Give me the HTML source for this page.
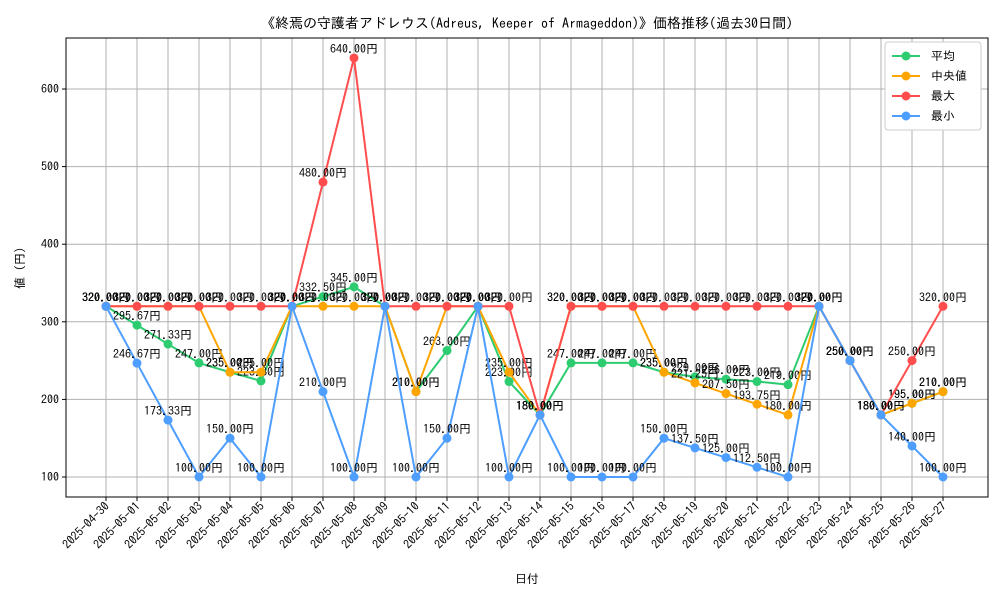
<!DOCTYPE html>
<html><head><meta charset="utf-8"><style>
body{margin:0;background:#fff;}
svg text{font-family:"IPAGothic","Noto Sans CJK JP",monospace;}
</style></head><body>
<svg id="c" width="1000" height="600"></svg>
<script>
const dates=["2025-04-30","2025-05-01","2025-05-02","2025-05-03","2025-05-04","2025-05-05","2025-05-06","2025-05-07","2025-05-08","2025-05-09","2025-05-10","2025-05-11","2025-05-12","2025-05-13","2025-05-14","2025-05-15","2025-05-16","2025-05-17","2025-05-18","2025-05-19","2025-05-20","2025-05-21","2025-05-22","2025-05-23","2025-05-24","2025-05-25","2025-05-26","2025-05-27"];
const avgVals=[320,295.67,271.33,247,235,223.8,320,332.5,345,320,210,263,320,223,180,247,247,247,235,229,226,223,219,320,250,180,195,210];
const medVals=[320,320,320,320,235,235,320,320,320,320,210,320,320,235,180,320,320,320,235,221.25,207.5,193.75,180,320,250,180,195,210];
const maxVals=[320,320,320,320,320,320,320,480,640,320,320,320,320,320,180,320,320,320,320,320,320,320,320,320,250,180,250,320];
const minVals=[320,246.67,173.33,100,150,100,320,210,100,320,100,150,320,100,180,100,100,100,150,137.5,125,112.5,100,320,250,180,140,100];
const yTicks=[100,200,300,400,500,600];
const NS="http://www.w3.org/2000/svg";
const svg=document.getElementById('c');
function mk(t,a,p){const e=document.createElementNS(NS,t);for(const k in a)e.setAttribute(k,a[k]);(p||svg).appendChild(e);return e;}
const L=66,R=988,T=38,B=497;
const x=i=>106+i*31;
const y=v=>477-(v-100)*0.776;
const frame=mk('rect',{x:L,y:T,width:R-L,height:B-T,fill:'none',stroke:'#000','stroke-width':1});


yTicks.forEach(v=>{
 const g=mk('line',{x1:L,x2:R,y1:y(v),y2:y(v),stroke:'#b0b0b0','stroke-width':1});
 
 
 mk('line',{x1:L-4,x2:L,y1:y(v),y2:y(v),stroke:'#000'});
 const t=mk('text',{x:L-7,y:y(v)+4,'text-anchor':'end','font-size':12});
 t.textContent=v;
 
 
});
dates.forEach((d,i)=>{
 const g=mk('line',{x1:x(i),x2:x(i),y1:T,y2:B,stroke:'#b0b0b0','stroke-width':1});
 
 
 mk('line',{x1:x(i),x2:x(i),y1:B,y2:B+4,stroke:'#000'});
 const t=mk('text',{x:0,y:0,'text-anchor':'end','font-size':12,transform:`translate(${x(i)+4},${B+10}) rotate(-45)`});
 t.textContent=d;
 
 
});
mk('rect',{x:L,y:T,width:R-L,height:B-T,fill:'none',stroke:'#000'});
const series=[[avgVals,'#2ecc71','平均'],[medVals,'#ffa500','中央値'],[maxVals,'#ff4d4d','最大'],[minVals,'#4d9eff','最小']];
series.forEach(([vals,col,name])=>{
 const g=mk('g',{});
 
 
 const pl=mk('polyline',{points:vals.map((v,i)=>x(i)+','+y(v)).join(' '),fill:'none',stroke:col,'stroke-width':2},g);
 
 
 vals.forEach((v,i)=>{
  const c=mk('circle',{cx:x(i),cy:y(v),r:4.5,fill:col},g);
  
  
  const t=mk('text',{x:x(i),y:y(v)-5,'text-anchor':'middle','font-size':12},g);
  t.textContent=v.toFixed(2)+'円';
  
  
 });
});
const lg=mk('g',{});


mk('rect',{x:885,y:42,width:96,height:88,fill:'#fff',stroke:'#ccc',rx:3},lg);
series.forEach(([v,col,name],k)=>{
 const yy=56+k*20;
 mk('line',{x1:892,x2:920,y1:yy,y2:yy,stroke:col,'stroke-width':2},lg);
 mk('circle',{cx:906,cy:yy,r:4.5,fill:col},lg);
 const t=mk('text',{x:931,y:yy+4,'font-size':12},lg);
 t.textContent=(k==1?' ':'')+name;
 
 
});
const title=mk('text',{x:527,y:28,'text-anchor':'middle','font-size':14});
title.textContent='《終焉の守護者アドレウス(Adreus, Keeper of Armageddon)》価格推移(過去30日間)';


const xt=mk('text',{x:527,y:583,'text-anchor':'middle','font-size':12});
xt.textContent='日付';


const yt=mk('text',{x:0,y:0,'text-anchor':'middle','font-size':12,transform:'translate(24,268) rotate(-90)'});
yt.textContent='値 (円)';


</script>
</body></html>
